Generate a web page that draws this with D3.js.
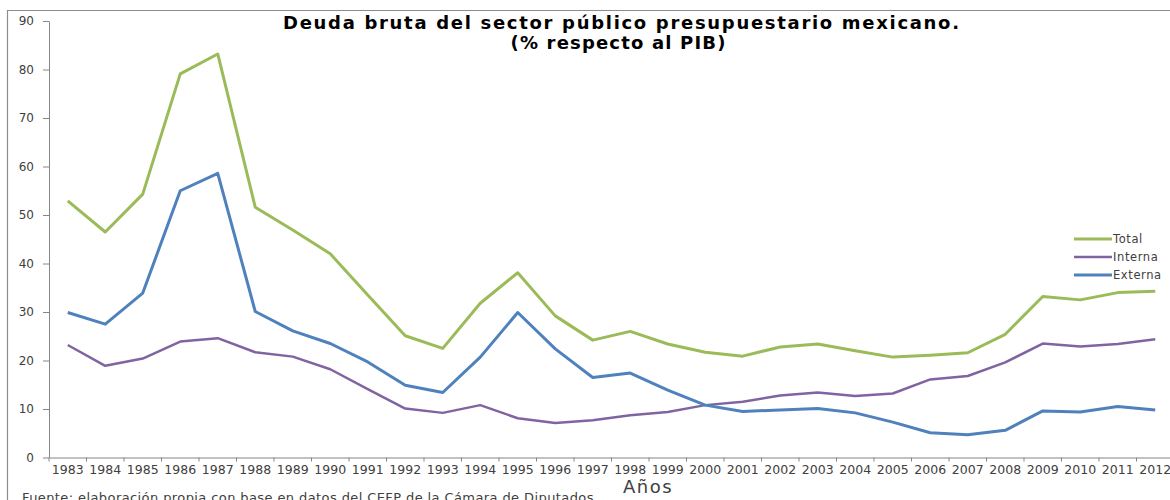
<!DOCTYPE html>
<html>
    <head>
        <title>Deuda bruta del sector publico</title>
        <meta charset="UTF-8">
        <script type="text/javascript" src="https://cdn.jsdelivr.net/npm/d3@7"></script>
        <style type="text/css">
            body{
                margin: 0;
                background-color: white;
            }
            .axis text{
                font-family: "DejaVu Sans", sans-serif;
                fill: #404040;
            }
            .axis path, .axis line{
                stroke: #868686;
            }
        </style>
    </head>
    <body>
        <div id="content"></div>
    </body>

    <script>
        let years = ["1983","1984","1985","1986","1987","1988","1989","1990","1991","1992",
                     "1993","1994","1995","1996","1997","1998","1999","2000","2001","2002",
                     "2003","2004","2005","2006","2007","2008","2009","2010","2011","2012","2013"];
        let total = [52.9, 46.5, 54.3, 79.1, 83.2, 51.6, 46.9, 42.0, 33.5, 25.1,
                     22.5, 31.8, 38.1, 29.2, 24.2, 26.0, 23.4, 21.7, 20.9, 22.8,
                     23.4, 22.0, 20.7, 21.1, 21.6, 25.4, 33.2, 32.5, 34.0, 34.3];
        let interna = [23.2, 18.9, 20.4, 23.9, 24.6, 21.7, 20.8, 18.2, 14.1, 10.1,
                       9.2, 10.8, 8.1, 7.1, 7.7, 8.7, 9.4, 10.8, 11.5, 12.8,
                       13.4, 12.7, 13.2, 16.1, 16.8, 19.6, 23.5, 22.9, 23.4, 24.4];
        let externa = [29.9, 27.5, 33.9, 55.0, 58.6, 30.1, 26.1, 23.5, 19.7, 14.9,
                       13.4, 20.7, 29.9, 22.4, 16.5, 17.4, 13.9, 10.8, 9.5, 9.8,
                       10.1, 9.2, 7.3, 5.1, 4.7, 5.6, 9.6, 9.4, 10.5, 9.8];
        let yTicks = [0, 10, 20, 30, 40, 50, 60, 70, 80, 90];

        let series = [
            {name: "Total", values: total, color: "#9bbb59", width: 3},
            {name: "Interna", values: interna, color: "#8064a2", width: 2.5},
            {name: "Externa", values: externa, color: "#4f81bd", width: 3}
        ];

        let svg = d3.select("#content")
                .append("svg")
                .attr("width", 1170)
                .attr("height", 500);

        // cadre gris du graphique
        svg.append("path")
                .attr("d", "M7.5,500 V10.5 H1170")
                .attr("fill", "none")
                .attr("stroke", "#8c8c8c")
                .attr("stroke-width", 1.2);

        let x = d3.scaleBand()
                .domain(years)
                .range([49, 49 + years.length * 37.5]);
        let y = d3.scaleLinear()
                .domain([0, 90])
                .range([457.5, 21]);

        let gy = svg.append("g")
                .attr("class", "axis")
                .attr("transform", "translate(49,0)")
                .call(d3.axisLeft(y).tickValues(yTicks).tickSize(6).tickPadding(9).tickSizeOuter(0));
        gy.selectAll("text").style("font-size", "12px");

        let gx = svg.append("g")
                .attr("class", "axis")
                .attr("transform", "translate(0,457.5)")
                .call(d3.axisBottom(x).tickSize(4).tickSizeOuter(0).tickPadding(4));
        gx.selectAll(".tick line")
                .attr("transform", "translate(" + (-x.bandwidth() / 2) + ",0)");
        gx.selectAll("text").style("font-size", "12.5px");

        let line = d3.line()
                .x((d, i) => x(years[i]) + x.bandwidth() / 2)
                .y(d => y(d));

        svg.selectAll(".serie")
                .data(series)
                .join("path")
                .attr("class", "serie")
                .attr("fill", "none")
                .attr("stroke", d => d.color)
                .attr("stroke-width", d => d.width)
                .attr("stroke-linejoin", "round")
                .attr("d", d => line(d.values));

        // legende
        let legend = svg.selectAll(".legend")
                .data(series)
                .join("g")
                .attr("class", "legend")
                .attr("transform", (d, i) => "translate(1074," + (239 + i * 18) + ")");
        legend.append("line")
                .attr("x1", 0)
                .attr("x2", 38)
                .attr("stroke", d => d.color)
                .attr("stroke-width", d => d.width);
        legend.append("text")
                .attr("x", 39)
                .attr("dy", "0.35em")
                .style("font-family", "DejaVu Sans, sans-serif")
                .style("font-size", "11.5px")
                .style("letter-spacing", "0.6px")
                .style("fill", "#404040")
                .text(d => d.name);

        // titres
        svg.append("text")
                .attr("x", 621)
                .attr("y", 29)
                .attr("text-anchor", "middle")
                .attr("textLength", 676)
                .attr("lengthAdjust", "spacing")
                .style("font-family", "DejaVu Sans, sans-serif")
                .style("font-weight", "bold")
                .style("font-size", "18px")
                .text("Deuda bruta del sector público presupuestario mexicano.");
        svg.append("text")
                .attr("x", 618)
                .attr("y", 49)
                .attr("text-anchor", "middle")
                .attr("textLength", 215)
                .attr("lengthAdjust", "spacing")
                .style("font-family", "DejaVu Sans, sans-serif")
                .style("font-weight", "bold")
                .style("font-size", "18px")
                .text("(% respecto al PIB)");

        svg.append("text")
                .attr("x", 648)
                .attr("y", 493)
                .attr("text-anchor", "middle")
                .style("font-family", "DejaVu Sans, sans-serif")
                .style("font-size", "18px")
                .style("letter-spacing", "1.5px")
                .style("fill", "#404040")
                .text("Años");

        svg.append("text")
                .attr("x", 22)
                .attr("y", 502)
                .attr("textLength", 576)
                .attr("lengthAdjust", "spacing")
                .style("font-family", "DejaVu Sans, sans-serif")
                .style("font-size", "13px")
                .style("fill", "#404040")
                .text("Fuente: elaboración propia con base en datos del CEFP de la Cámara de Diputados.");
    </script>
</html>
